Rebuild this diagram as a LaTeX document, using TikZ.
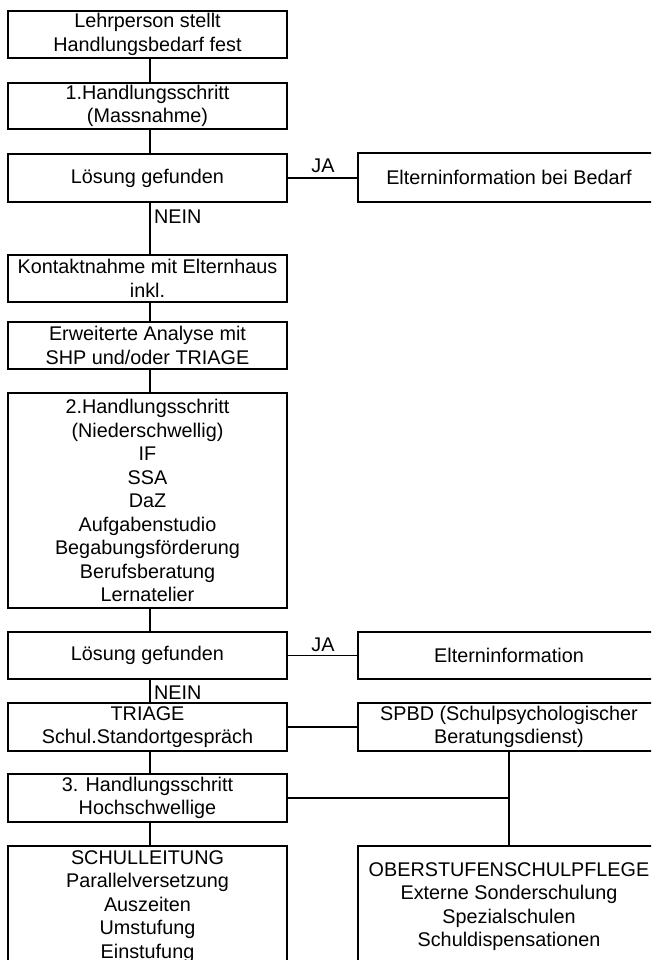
\documentclass[tikz,border=0pt]{standalone}
\usepackage{fontspec}
\setmainfont{Liberation Sans}
\begin{document}
\begin{tikzpicture}[x=1pt,y=-1pt,
  box/.style={draw, line width=1.1pt, rectangle, inner sep=0pt, align=center,
    font=\fontsize{19.8}{23.5}\selectfont, text=black},
  lbox/.style={box, minimum width=279pt},
  rbox/.style={box, minimum width=302pt},
  conn/.style={line width=1.3pt},
  lab/.style={font=\fontsize{19.8}{23.5}\selectfont, inner sep=0pt}]
\useasboundingbox (0,0) rectangle (651,960);
\clip (0,0) rectangle (651,960);
\fill[white] (0,0) rectangle (651,960);
% left column
\node[lbox, minimum height=47pt] (b1) at (147.5,34.5) {Lehrperson stellt\\Handlungsbedarf fest};
\node[lbox, minimum height=46pt] (b2) at (147.5,106) {1.Handlungsschritt\\(Massnahme)};
\node[lbox, minimum height=48pt] (b3) at (147.5,178) {Lösung gefunden};
\node[lbox, minimum height=47pt] (b4) at (147.5,278.5) {Kontaktnahme mit Elternhaus\\inkl.};
\node[lbox, minimum height=47pt] (b5) at (147.5,345.5) {Erweiterte Analyse mit\\SHP und/oder TRIAGE};
\node[lbox, minimum height=215pt] (b6) at (147.5,500.5) {2.Handlungsschritt\\(Niederschwellig)\\IF\\SSA\\DaZ\\Aufgabenstudio\\Begabungsförderung\\Berufsberatung\\Lernatelier};
\node[lbox, minimum height=47pt] (b7) at (147.5,655.5) {Lösung gefunden};
\node[lbox, minimum height=48pt] (b8) at (147.5,727) {TRIAGE\\Schul.Standortgespräch};
\node[lbox, minimum height=48pt] (b9) at (147.5,798) {3. Handlungsschritt\\Hochschwellige};
\node[lbox, minimum height=121pt] (b10) at (147.5,906.5) {SCHULLEITUNG\\Parallelversetzung\\Auszeiten\\Umstufung\\Einstufung};
% right column
\node[rbox, minimum height=49pt] (r1) at (509,177.5) {Elterninformation bei Bedarf};
\node[rbox, minimum height=47pt] (r2) at (509,655.5) {Elterninformation};
\node[rbox, minimum height=48pt] (r3) at (509,727) {SPBD (Schulpsychologischer\\Beratungsdienst)};
\node[rbox, minimum height=121pt] (r4) at (509,906.5) {OBERSTUFENSCHULPFLEGE\\Externe Sonderschulung\\Spezialschulen\\Schuldispensationen};
% vertical connectors
\foreach \a/\b in {b1/b2,b2/b3,b3/b4,b4/b5,b5/b6,b6/b7,b7/b8,b8/b9,b9/b10}
  \draw[conn] ([xshift=2.5pt]\a.south) -- ([xshift=2.5pt]\b.north);
% horizontal connectors
\draw[conn] (b3.east) -- (b3.east -| r1.west);
\draw[conn] (b7.east) -- (b7.east -| r2.west);
\draw[conn] (b8.east) -- (b8.east -| r3.west);
\draw[conn] (b9.east) -- (b9.east -| r3.south);
\draw[conn] (r3.south) -- (r4.north);
% labels
\node[lab, anchor=base] (ja1) at (323,172.5) {JA};
\node[lab, anchor=base] (ja2) at (323,651.5) {JA};
\node[lab, anchor=base west] (nein1) at (154,223) {NEIN};
\node[lab, anchor=base west] (nein2) at (154,699) {NEIN};
\end{tikzpicture}
\end{document}
